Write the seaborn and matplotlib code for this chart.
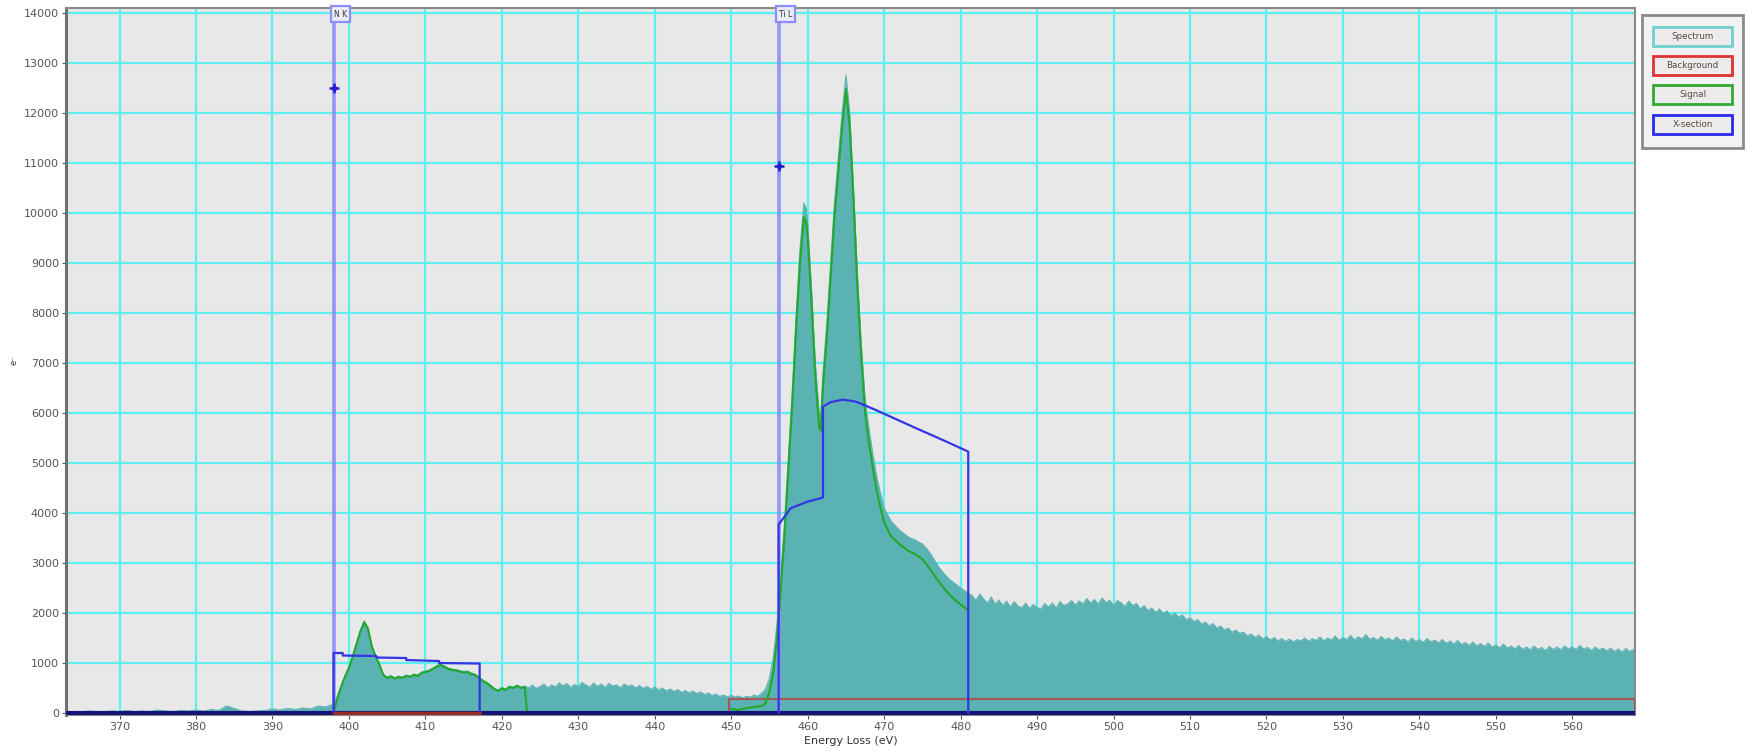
import matplotlib
matplotlib.use("Agg")
import matplotlib.pyplot as plt
import matplotlib.patches as mpatches
import seaborn as sns

# ---------------- data ----------------
# spectrum, pre-edge + N K + Ti L region
spec_x = [363, 364, 365, 366, 367, 368, 369, 370, 371, 372, 373, 374, 375, 376, 377, 378, 379, 380,
          381, 382, 383, 384, 385, 386, 387, 388, 389, 390, 391, 392, 393, 394, 395, 396, 397, 398,
          398.5, 399, 399.5, 400, 400.5, 401, 401.5, 402, 402.5, 403, 403.5, 404, 404.5, 405, 405.5,
          406, 406.5, 407, 407.5, 408, 408.5, 409, 409.5, 410, 410.5, 411, 411.5, 412, 412.5, 413,
          413.5, 414, 414.5, 415, 415.5, 416, 416.5, 417, 417.5, 418, 418.5, 419, 419.5, 420, 420.5,
          421, 421.5, 422, 422.5, 423, 423.5,
          424, 424.5, 425, 425.5, 426, 426.5, 427, 427.5, 428, 428.5, 429, 429.5, 430, 430.5, 431,
          431.5, 432, 432.5, 433, 433.5, 434, 434.5, 435, 435.5, 436, 436.5, 437, 437.5, 438, 438.5,
          439, 439.5, 440, 440.5, 441, 441.5, 442, 442.5, 443, 443.5, 444, 444.5, 445, 445.5, 446,
          446.5, 447, 447.5, 448, 448.5, 449, 449.5, 450, 450.5, 451, 451.5, 452, 452.5, 453, 453.5,
          454, 454.5, 455, 455.5, 456,
          456.5, 457, 457.5, 458, 458.5, 459, 459.5, 459.8, 460, 460.5, 461, 461.5, 461.7, 462, 462.5,
          463, 463.5, 464, 464.5, 465, 465.5, 466, 466.5, 467, 467.5, 468, 468.5, 469, 469.5, 470,
          470.5, 471, 471.5, 472, 472.5, 473, 473.5, 474, 474.5, 475, 475.5, 476, 476.5, 477, 477.5,
          478, 478.5, 479, 479.5, 480, 480.5, 481]
spec_y = [20, 30, 20, 40, 30, 20, 40, 30, 50, 30, 40, 30, 60, 40, 30, 50, 40, 60,
          40, 70, 50, 140, 90, 40, 30, 40, 50, 80, 60, 90, 70, 100, 80, 140, 120, 180,
          330, 550, 750, 920, 1150, 1400, 1650, 1840, 1700, 1350, 1150, 980, 780, 720, 750,
          700, 740, 720, 760, 740, 780, 760, 820, 840, 860, 900, 950, 980, 940, 900,
          880, 870, 850, 830, 840, 800, 780, 720, 660, 620, 560, 500, 460, 510, 480,
          540, 520, 560, 520, 540, 500,
          560, 490, 530, 580, 500, 560, 520, 600, 540, 590, 510, 570, 530, 610, 560,
          520, 600, 530, 580, 510, 590, 540, 560, 500, 580, 530, 560, 500, 550, 490,
          530, 470, 520, 460, 500, 440, 480, 430, 470, 410, 450, 400, 440, 390, 420,
          370, 400, 350, 380, 330, 360, 320, 350, 320, 340, 300, 330, 320, 360, 330,
          400, 480, 700, 1100, 1800,
          2800, 3900, 5200, 6500, 8000, 9300, 10200, 10100, 9800, 8500, 7000, 6000, 5930, 6800, 7800,
          9000, 10200, 11100, 12000, 12760, 12000, 10500, 8800, 7400, 6300, 5700, 5200, 4750, 4400, 4100,
          3950, 3820, 3740, 3660, 3600, 3540, 3490, 3470, 3420, 3380, 3300, 3200, 3080, 2950, 2850,
          2760, 2680, 2620, 2560, 2500, 2450, 2400]
# spectrum tail beyond 481 eV
tail_x = [481.5, 482, 482.5, 483, 483.5, 484, 484.5, 485, 485.5, 486, 486.5, 487, 487.5, 488, 488.5,
          489, 489.5, 490, 490.5, 491, 491.5, 492, 492.5, 493, 493.5, 494, 494.5, 495, 495.5, 496,
          496.5, 497, 497.5, 498, 498.5, 499, 499.5, 500, 500.5, 501, 501.5, 502, 502.5, 503, 503.5,
          504, 504.5, 505, 505.5, 506, 506.5, 507, 507.5, 508, 508.5, 509, 509.5, 510, 510.5, 511,
          511.5, 512, 512.5, 513, 513.5, 514, 514.5, 515, 515.5, 516, 516.5, 517, 517.5, 518, 518.5,
          519, 519.5, 520, 520.5, 521, 521.5, 522, 522.5, 523, 523.5, 524, 524.5, 525, 525.5, 526,
          526.5, 527, 527.5, 528, 528.5, 529, 529.5, 530, 530.5, 531, 531.5, 532, 532.5, 533, 533.5,
          534, 534.5, 535, 535.5, 536, 536.5, 537, 537.5, 538, 538.5, 539, 539.5, 540, 540.5, 541,
          541.5, 542, 542.5, 543, 543.5, 544, 544.5, 545, 545.5, 546, 546.5, 547, 547.5, 548, 548.5,
          549, 549.5, 550, 550.5, 551, 551.5, 552, 552.5, 553, 553.5, 554, 554.5, 555, 555.5, 556,
          556.5, 557, 557.5, 558, 558.5, 559, 559.5, 560, 560.5, 561, 561.5, 562, 562.5, 563, 563.5,
          564, 564.5, 565, 565.5, 566, 566.5, 567, 567.5, 568, 568.2]
tail_y = [2350, 2250, 2380, 2280, 2200, 2320, 2180, 2260, 2150, 2240, 2120, 2230, 2140, 2100, 2200,
          2090, 2170, 2110, 2080, 2190, 2120, 2200, 2100, 2230, 2150, 2180, 2250, 2160, 2240, 2180,
          2290, 2200, 2270, 2180, 2300, 2210, 2260, 2150, 2250, 2200, 2130, 2240, 2150, 2190, 2080,
          2150, 2050, 2100, 2010, 2080, 1990, 2040, 1950, 2000, 1920, 1960, 1870, 1900, 1830, 1870,
          1780, 1820, 1740, 1790, 1700, 1740, 1660, 1700, 1620, 1660, 1590, 1620, 1540, 1580, 1510,
          1560, 1480, 1530, 1460, 1510, 1440, 1490, 1430, 1480, 1420, 1470, 1440, 1500, 1430, 1490,
          1450, 1520, 1440, 1500, 1460, 1540, 1450, 1510, 1470, 1550, 1460, 1520, 1480, 1570, 1470,
          1510, 1450, 1530, 1460, 1500, 1440, 1520, 1450, 1480, 1420, 1500, 1430, 1470, 1410, 1490,
          1420, 1460, 1400, 1470, 1390, 1440, 1380, 1450, 1370, 1410, 1350, 1420, 1340, 1390, 1330,
          1400, 1320, 1360, 1300, 1380, 1300, 1340, 1280, 1350, 1270, 1320, 1260, 1340, 1270, 1310,
          1250, 1330, 1270, 1320, 1260, 1340, 1280, 1320, 1270, 1350, 1280, 1310, 1250, 1320, 1260,
          1300, 1240, 1300, 1230, 1280, 1220, 1290, 1230, 1270, 1250]

sig_nk_x = [398, 398.5, 399, 399.5, 400, 400.5, 401, 401.5, 402, 402.5, 403, 403.5, 404, 404.5, 405,
            405.5, 406, 406.5, 407, 407.5, 408, 408.5, 409, 409.5, 410, 410.5, 411, 411.5, 412, 412.5,
            413, 413.5, 414, 414.5, 415, 415.5, 416, 416.5, 417, 417.5, 418, 418.5, 419, 419.5, 420,
            420.5, 421, 421.5, 422, 422.5, 423, 423.3]
sig_nk_y = [0, 300, 530, 730, 900, 1130, 1380, 1630, 1820, 1680, 1330, 1130, 960, 760, 700,
            730, 690, 720, 700, 740, 720, 760, 740, 800, 820, 840, 880, 930, 960, 920,
            880, 860, 850, 830, 810, 820, 780, 760, 700, 640, 600, 540, 480, 440, 490,
            460, 520, 500, 540, 500, 520, 0]
sig_ti_x = [450, 451, 452, 453, 454, 454.5, 455, 455.5, 456, 456.5, 457, 457.5, 458, 458.5, 459,
            459.5, 459.8, 460, 460.5, 461, 461.5, 461.7, 462, 462.5, 463, 463.5, 464, 464.5, 465,
            465.5, 466, 466.5, 467, 467.5, 468, 468.5, 469, 469.5, 470, 470.5, 471, 472, 473, 474,
            475, 476, 477, 478, 479, 480, 481]
sig_ti_y = [80, 60, 100, 120, 140, 200, 420, 820, 1520, 2520, 3620, 4920, 6220, 7720, 9020,
            9920, 9820, 9520, 8220, 6720, 5720, 5650, 6520, 7520, 8720, 9920, 10820, 11720, 12480,
            11720, 10220, 8520, 7120, 6020, 5420, 4920, 4470, 4120, 3820, 3650, 3520, 3380, 3260, 3180,
            3080, 2880, 2660, 2460, 2300, 2170, 2050]

bg_nk_x = [398, 417.1]
bg_nk_y = [0, 0]
bg_ti_x = [449.7, 449.7, 568.2, 568.2]
bg_ti_y = [0, 280, 280, 0]

xs_nk_x = [398, 398, 399.2, 399.2, 403.6, 403.6, 407.5, 407.5, 411.8, 411.8, 417.1, 417.1]
xs_nk_y = [0, 1200, 1200, 1150, 1140, 1110, 1100, 1060, 1040, 1000, 990, 0]
xs_ti_x = [456.2, 456.2, 457.8, 460, 462, 462, 463, 464.6, 466.3, 468.8, 474, 478, 481, 481]
xs_ti_y = [0, 3770, 4100, 4230, 4310, 6130, 6220, 6270, 6230, 6070, 5710, 5440, 5230, 0]

edges = ["N K", "Ti L"]
edge_x = [398.0, 456.2]
edge_marker_y = [12500, 10950]

x_ticks = list(range(370, 561, 10))
y_ticks = list(range(0, 14001, 1000))
legend_labels = ["Spectrum", "Background", "Signal", "X-section"]

# ---------------- styling ----------------
sns.set_style("white")
plt.rcParams['font.family'] = ['DejaVu Sans']

TEAL = "#5bb2b3"
GRID = "#5ef0f0"
GREEN = "#22a82a"
RED = "#c03a3a"
BLUE = "#3535e6"
NAVY = "#14147a"
EDGE = "#8c8cff"

fig = plt.figure(figsize=(17.48, 7.54), dpi=100)
ax = fig.add_axes([66 / 1748, 1 - 715 / 754, (1635 - 66) / 1748, (715 - 8) / 754])
ax.set_facecolor("#e8e8e8")
ax.set_xlim(363.0, 568.2)
ax.set_ylim(-40, 14106)

ax.set_xticks(x_ticks)
ax.set_yticks(y_ticks)
ax.grid(True, color=GRID, lw=1.6, zorder=0)
ax.set_axisbelow(True)
ax.tick_params(axis='both', which='both', direction='out', length=3, width=0.8,
               colors="#555555", labelsize=8, pad=2, left=True, bottom=True)
for s in ax.spines.values():
    s.set_color("#8a8a8a")
    s.set_linewidth(1.5)
ax.spines['left'].set_linewidth(2.2)
ax.spines['left'].set_color("#707070")

# spectrum fill
all_x = spec_x + tail_x
all_y = spec_y + tail_y
ax.fill_between(all_x, all_y, 0, color=TEAL, lw=0, zorder=2)
sns.lineplot(x=all_x, y=all_y, sort=False, estimator=None, ax=ax, color=TEAL, lw=0.8, zorder=2)

# zero line of cross section
sns.lineplot(x=[363.0, 568.2], y=[0, 0], sort=False, estimator=None, ax=ax, color=NAVY, lw=3, zorder=5)

# background
sns.lineplot(x=bg_nk_x, y=bg_nk_y, sort=False, estimator=None, ax=ax, color="#9a2a2a", lw=2.5, zorder=6)
sns.lineplot(x=bg_ti_x, y=bg_ti_y, sort=False, estimator=None, ax=ax, color=RED, lw=1.6, alpha=0.75, zorder=4)

# signal
sns.lineplot(x=sig_nk_x, y=sig_nk_y, sort=False, estimator=None, ax=ax, color=GREEN, lw=1.5, zorder=4)
sns.lineplot(x=sig_ti_x, y=sig_ti_y, sort=False, estimator=None, ax=ax, color=GREEN, lw=1.5, zorder=4)

# edge marker lines
for name, ex, my in zip(edges, edge_x, edge_marker_y):
    ax.axvline(ex, color=EDGE, lw=2.6, alpha=0.9, zorder=3)
    ax.plot([ex], [my], marker='+', color="#2020d0", ms=7, mew=1.8, zorder=7)
    ax.plot([ex], [my], marker='o', color="#2020d0", ms=3, zorder=7)
    ax.text(ex, 14075, name, ha='left', va='top', fontsize=5.5, color="#333333", zorder=8,
            bbox=dict(boxstyle='square,pad=0.4', fc="#ececf6", ec=EDGE, lw=1.6))

# cross sections
sns.lineplot(x=xs_nk_x, y=xs_nk_y, sort=False, estimator=None, ax=ax, color=BLUE, lw=1.6, zorder=5)
sns.lineplot(x=xs_ti_x, y=xs_ti_y, sort=False, estimator=None, ax=ax, color=BLUE, lw=1.6, zorder=5)

ax.set_xlabel("Energy Loss (eV)", fontsize=8, color="#333333", labelpad=3)
ax.set_ylabel("")
fig.text(14 / 1748, 1 - 360 / 754, "e\u207b", rotation=90, fontsize=6, color="#333333",
         ha='center', va='center')

# legend panel
fig.add_artist(mpatches.Rectangle((1642 / 1748, 1 - 148 / 754), 101 / 1748, 133 / 754,
                                  transform=fig.transFigure, fc="#f2f2f2", ec="#8a8a8a", lw=2))
leg_colors = ["#6fd0d0", "#dd3333", "#33aa33", "#2a2aee"]
leg_tops = [27, 56, 85, 115]
for lab, c, t in zip(legend_labels, leg_colors, leg_tops):
    fig.add_artist(mpatches.Rectangle((1653 / 1748, 1 - (t + 19) / 754), 79 / 1748, 19 / 754,
                                      transform=fig.transFigure, fc="#ececec", ec=c, lw=2))
    fig.text((1653 + 39.5) / 1748, 1 - (t + 9.5) / 754, lab, ha='center', va='center',
             fontsize=6.3, color="#5a4a40")

fig.savefig("out.png", dpi=100)
